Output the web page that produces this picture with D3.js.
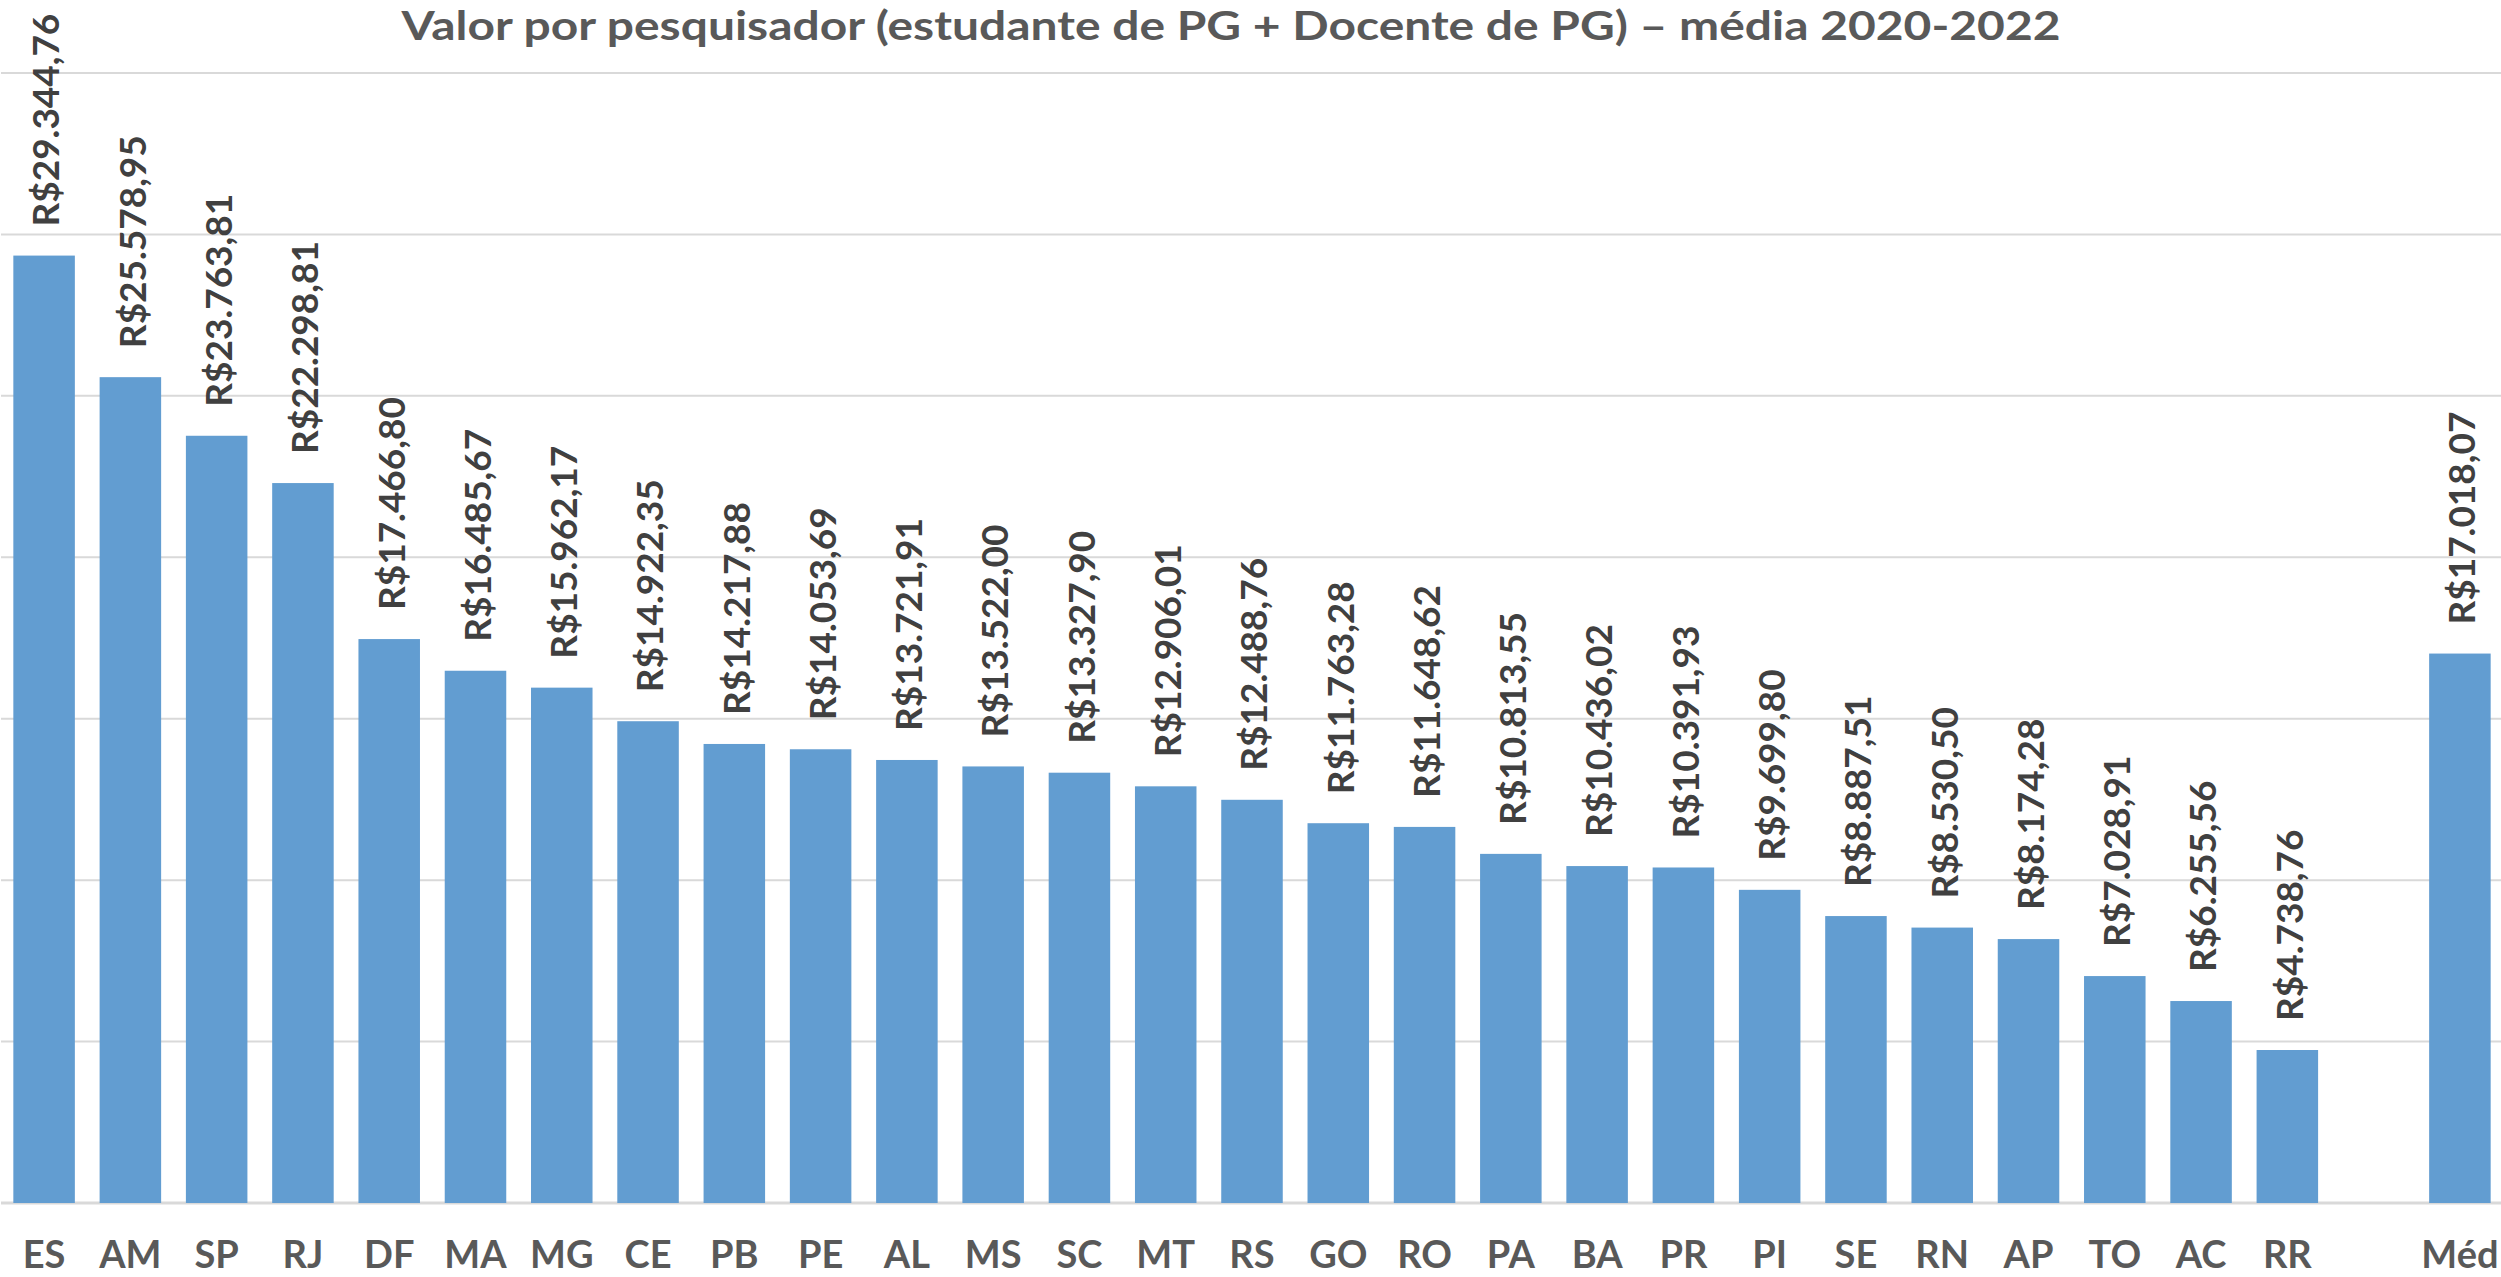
<!DOCTYPE html>
<html>
<head>
<meta charset="utf-8">
<script src="https://cdn.jsdelivr.net/npm/d3@7"></script>
<style>
  body { margin: 0; background: #fff; }
  svg { display: block; }
</style>
</head>
<body>
<svg width="2501" height="1277"></svg>
<script>
// states ordered by value, then a gap and the average bar
const states = ["ES", "AM", "SP", "RJ", "DF", "MA", "MG", "CE", "PB", "PE", "AL", "MS", "SC",
  "MT", "RS", "GO", "RO", "PA", "BA", "PR", "PI", "SE", "RN", "AP", "TO", "AC", "RR"];
const values = [29344.76, 25578.95, 23763.81, 22298.81, 17466.80, 16485.67, 15962.17, 14922.35,
  14217.88, 14053.69, 13721.91, 13522.00, 13327.90, 12906.01, 12488.76, 11763.28, 11648.62,
  10813.55, 10436.02, 10391.93, 9699.80, 8887.51, 8530.50, 8174.28, 7028.91, 6255.56, 4738.76];
const avgLabel = "Méd";
const avgValue = 17018.07;
const yTicks = [0, 5000, 10000, 15000, 20000, 25000, 30000, 35000];
const title = "Valor por pesquisador (estudante de PG + Docente de PG) – média 2020-2022";

const width = 2501;
const height = 1277;
const baseY = 1203;
const topY = 73;

const data = states.map((s, i) => ({ cat: s, value: values[i] }));
data.push({ cat: " ", value: null }); // empty slot before the average
data.push({ cat: avgLabel, value: avgValue });

const br = d3.formatLocale({ decimal: ",", thousands: ".", grouping: [3], currency: ["R$", ""] });
const fmt = br.format("$,.2f");

const x = d3.scaleBand()
  .domain(data.map((d) => d.cat))
  .range([1, 2503])
  .paddingInner(0.287)
  .paddingOuter(0.143);

const y = d3.scaleLinear()
  .domain([0, 35000])
  .range([baseY, topY]);

const svg = d3.select("svg");

// gridlines
svg.append("g")
  .selectAll("line")
  .data(yTicks)
  .enter()
  .append("line")
  .attr("x1", 1)
  .attr("x2", width)
  .attr("y1", (d) => y(d))
  .attr("y2", (d) => y(d))
  .attr("stroke", "#d9d9d9")
  .attr("stroke-width", (d) => (d === 0 ? 3 : 2));

// bars
const bars = data.filter((d) => d.value != null);
svg.append("g")
  .selectAll("rect")
  .data(bars)
  .enter()
  .append("rect")
  .attr("x", (d) => x(d.cat))
  .attr("y", (d) => y(d.value))
  .attr("width", x.bandwidth())
  .attr("height", (d) => y(0) - y(d.value))
  .attr("fill", "#629dd1");

// value labels
svg.append("g")
  .selectAll("text")
  .data(bars)
  .enter()
  .append("text")
  .attr("transform", (d) => `translate(${x(d.cat) + x.bandwidth() / 2 + 2}, ${y(d.value) - 29}) rotate(-90)`)
  .attr("dy", "0.36em")
  .attr("font-family", "Lato, sans-serif")
  .attr("font-weight", "bold")
  .attr("font-size", 37)
  .attr("fill", "#404040")
  .text((d) => fmt(d.value));

// category axis
const xAxis = d3.axisBottom(x).tickSize(0).tickPadding(0);
const gx = svg.append("g")
  .attr("transform", `translate(0, ${baseY})`)
  .call(xAxis);
gx.select(".domain").remove();
gx.selectAll("text")
  .attr("y", 65)
  .attr("dy", 0)
  .attr("font-family", "Lato, sans-serif")
  .attr("font-weight", "bold")
  .attr("font-size", 38)
  .attr("fill", "#595959");

// title, kept at the very top edge
svg.append("text")
  .attr("x", 1231)
  .attr("y", 40)
  .attr("text-anchor", "middle")
  .attr("font-family", "Lato, sans-serif")
  .attr("font-weight", "bold")
  .attr("font-size", 40)
  .attr("fill", "#595959")
  .attr("textLength", 1659)
  .attr("lengthAdjust", "spacingAndGlyphs")
  .text(title);
</script>
</body>
</html>
